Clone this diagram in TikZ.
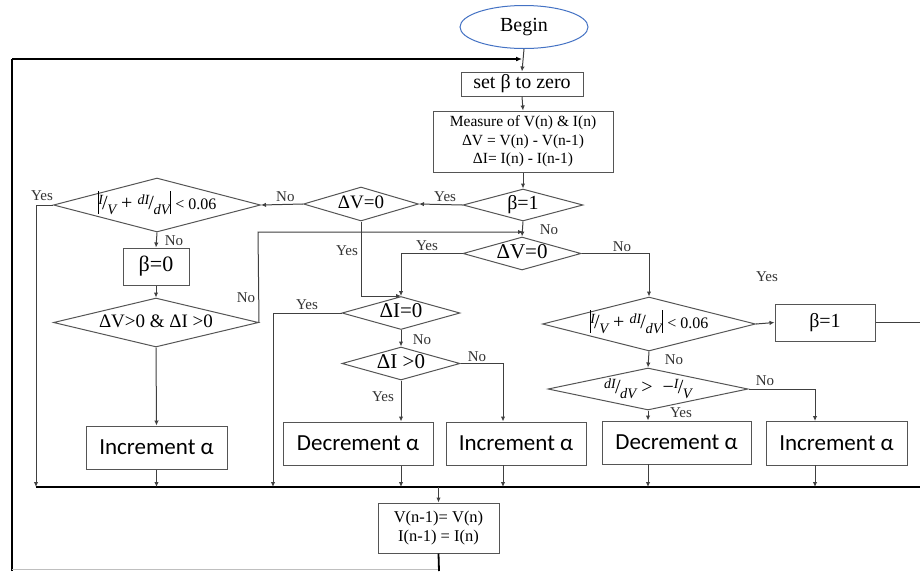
\documentclass[tikz,border=0pt]{standalone}
\usepackage{fontspec}
\setmainfont{Liberation Serif}
\newfontfamily\calib{Carlito}
\usetikzlibrary{shapes.geometric,arrows.meta}
\definecolor{lc}{HTML}{404040}
\definecolor{bc}{HTML}{555555}
\definecolor{beginblue}{HTML}{4472C4}
\newcommand\slf[2]{\raisebox{.6ex}{\fontsize{14}{14}\selectfont\itshape #1}\kern-.04em/\kern-.02em\raisebox{-.5ex}{\fontsize{14.5}{14.5}\selectfont\itshape #2}}
\newcommand\absbar{\rule[-0.45ex]{0.8pt}{1.15em}}
\begin{document}
\begin{tikzpicture}[x=1pt,y=-1pt,
  every node/.style={inner sep=0pt},
  box/.style={draw=bc,line width=1pt,rectangle,fill=white,align=center},
  dmd/.style={draw=bc,line width=1pt,diamond,aspect=1,text height=2.1ex,text depth=0pt},
  ln/.style={draw=lc,line width=1pt},
  arr/.style={ln,-{Latex[length=5pt,width=4.5pt]}},
  thk/.style={draw=black,line width=1.8pt},
  lbl/.style={font=\fontsize{15}{15}\selectfont,text=black!80},
  big/.style={font=\fontsize{21}{21}\selectfont},
  sans/.style={font=\calib\fontsize{23}{23}\selectfont},
  frm/.style={font=\fontsize{20}{20}\selectfont}
]
\useasboundingbox (0,0) rectangle (920,571);
\fill[white] (0,0) rectangle (920,571);

% nodes
\node[draw=beginblue,line width=1pt,ellipse,minimum width=128,minimum height=43,font=\fontsize{20}{20}\selectfont] (begin) at (524,27) {Begin};
\node[box,minimum width=122,minimum height=24,font=\fontsize{20}{20}\selectfont] (setb) at (522,84) {set β to zero};
\node[box,minimum width=180,minimum height=61,font=\fontsize{15.5}{18.5}\selectfont] (meas) at (523,141.5) {Measure of V(n) \& I(n)\\ΔV = V(n) - V(n-1)\\ΔI= I(n) - I(n-1)};
\node[dmd,minimum width=120,minimum height=32,font=\fontsize{20}{20}\selectfont] (b1) at (523,205) {\makebox[0pt]{β=1}};
\node[dmd,minimum width=115,minimum height=34,font=\fontsize{19}{19}\selectfont] (dv1) at (361,204) {\makebox[0pt]{ΔV=0}};
\node[dmd,minimum width=207,minimum height=54,frm] (c1) at (157,205) {\makebox[0pt]{\absbar\slf{I}{V} + \slf{dI}{dV}\absbar\ {\fontsize{16}{16}\selectfont < 0.06}}};
\node[box,minimum width=66,minimum height=37,font=\fontsize{22}{22}\selectfont] (b0) at (156,266.5) {β=0};
\node[dmd,minimum width=205,minimum height=49,font=\fontsize{19}{19}\selectfont] (dvdi) at (156,322.5) {\makebox[0pt]{ΔV>0 \& ΔI >0}};
\node[box,minimum width=141,minimum height=43,sans] (inc1) at (156.5,447.5) {Increment α};
\node[dmd,minimum width=118,minimum height=33,big] (dv2) at (522,253.5) {\makebox[0pt]{ΔV=0}};
\node[dmd,minimum width=118,minimum height=33,big] (di0) at (401,313) {\makebox[0pt]{ΔI=0}};
\node[dmd,minimum width=118,minimum height=33,big] (dip) at (401,363.5) {\makebox[0pt]{ΔI >0}};
\node[box,minimum width=150,minimum height=43,sans] (dec1) at (358,443.5) {Decrement α};
\node[box,minimum width=140,minimum height=43,sans] (inc2) at (516,443.5) {Increment α};
\node[dmd,minimum width=213,minimum height=54,frm] (c2) at (649,324) {\makebox[0pt]{\absbar\slf{I}{V} + \slf{dI}{dV}\absbar\ {\fontsize{16}{16}\selectfont < 0.06}}};
\node[box,minimum width=100,minimum height=37,font=\fontsize{20}{20}\selectfont] (b1b) at (825,322.5) {β=1};
\node[dmd,minimum width=200,minimum height=42,frm] (c3) at (648,389) {\makebox[0pt]{\slf{dI}{dV} >\ \ −\slf{I}{V}}};
\node[box,minimum width=149,minimum height=43,sans] (dec2) at (676.5,442.5) {Decrement α};
\node[box,minimum width=141,minimum height=44,sans] (inc3) at (836.5,443) {Increment α};
\node[box,minimum width=121,minimum height=50,font=\fontsize{16.5}{19}\selectfont] (vbox) at (438.5,528) {V(n-1)= V(n)\\I(n-1) = I(n)};

% coordinates
\coordinate (busL) at (36,487);
\coordinate (busR) at (920,487);
\coordinate (loopB) at (12,571);
\coordinate (loopT) at (12,59);
\coordinate (noJ) at (258,232);
\coordinate (bR) at (920,322.5);
\coordinate (vB) at (439,571);

% main loop and bus
\draw[thk] (loopB) -- (loopT);
\draw[thk,-{Latex[length=6pt,width=5pt]}] (loopT) -- (loopT -| setb.north);
\draw[black!25,line width=0.8pt] (loopB |- 0,569) -- (vB |- 0,569);
\draw[thk] (busL) -- (busR);
\draw[arr] (vbox.north |- busL) -- (vbox.north);
\draw[thk] (vbox.south) -- (vB);

% connectors
\draw[arr] (begin.south) -- (setb.north);
\draw[arr] (setb.south) -- (meas.north);
\draw[arr] (meas.south) -- (b1.north);
\draw[arr] (b1.west) -- (dv1.east) node[lbl,pos=0.4,above=2pt] {Yes};
\draw[arr] (dv1.west) -- (c1.east) node[lbl,pos=0.42,above=2pt] {No};
\draw[arr] (c1.west) -- (c1.west -| busL) -- (busL);
\node[lbl] (yes1) at (42,196) {Yes};
\draw[arr] (c1.south) -- (b0.north);
\node[lbl] (no1) at (174,241) {No};
\draw[arr] (b0.south) -- (dvdi.north);
\draw[arr] (dvdi.south) -- (inc1.north);
\draw[arr] (inc1.south) -- (inc1.south |- busL);
\draw[arr] (dvdi.east) -- (noJ) -- (noJ -| b1.south);
\node[lbl] (no2) at (246,298) {No};
\draw[arr] (b1.south) -- (dv2.north);
\node[lbl] (no3) at (549,230) {No};
\draw[arr] (dv2.west) -| (di0.north);
\node[lbl] (yes2) at (427,246) {Yes};
\draw[arr] (dv1.south) |- (di0.north);
\node[lbl] (yes3) at (347,251) {Yes};
\draw[arr] (di0.west) -| (273,487);
\node[lbl] (yes4) at (307,305) {Yes};
\draw[arr] (di0.south) -- (dip.north);
\node[lbl] (no4) at (422,340) {No};
\draw[arr] (dip.south) -- (dip.south |- dec1.north);
\node[lbl] (yes5) at (383,397) {Yes};
\draw[arr] (dip.east) -| (503,421.5);
\node[lbl] (no5) at (477,357) {No};
\draw[arr] (dec1.south -| dip.south) -- (dip.south |- busL);
\draw[arr] (503,465) -- (503,487);
\draw[arr] (dv2.east) -| (c2.north);
\node[lbl] (no6) at (622,247) {No};
\draw[arr] (c2.east) -- (b1b.west);
\node[lbl] (yes6) at (767,277) {Yes};
\draw[ln] (b1b.east) -- (bR);
\draw[arr] (c2.south) -- (c3.north);
\node[lbl] (no7) at (674,360) {No};
\draw[arr] (c3.south) -- (c3.south |- dec2.north);
\node[lbl] (yes7) at (681,413) {Yes};
\draw[arr] (c3.east) -| (815,421);
\node[lbl] (no8) at (765,381) {No};
\draw[arr] (648,464) -- (648,487);
\draw[arr] (815,465) -- (815,487);
\end{tikzpicture}
\end{document}
